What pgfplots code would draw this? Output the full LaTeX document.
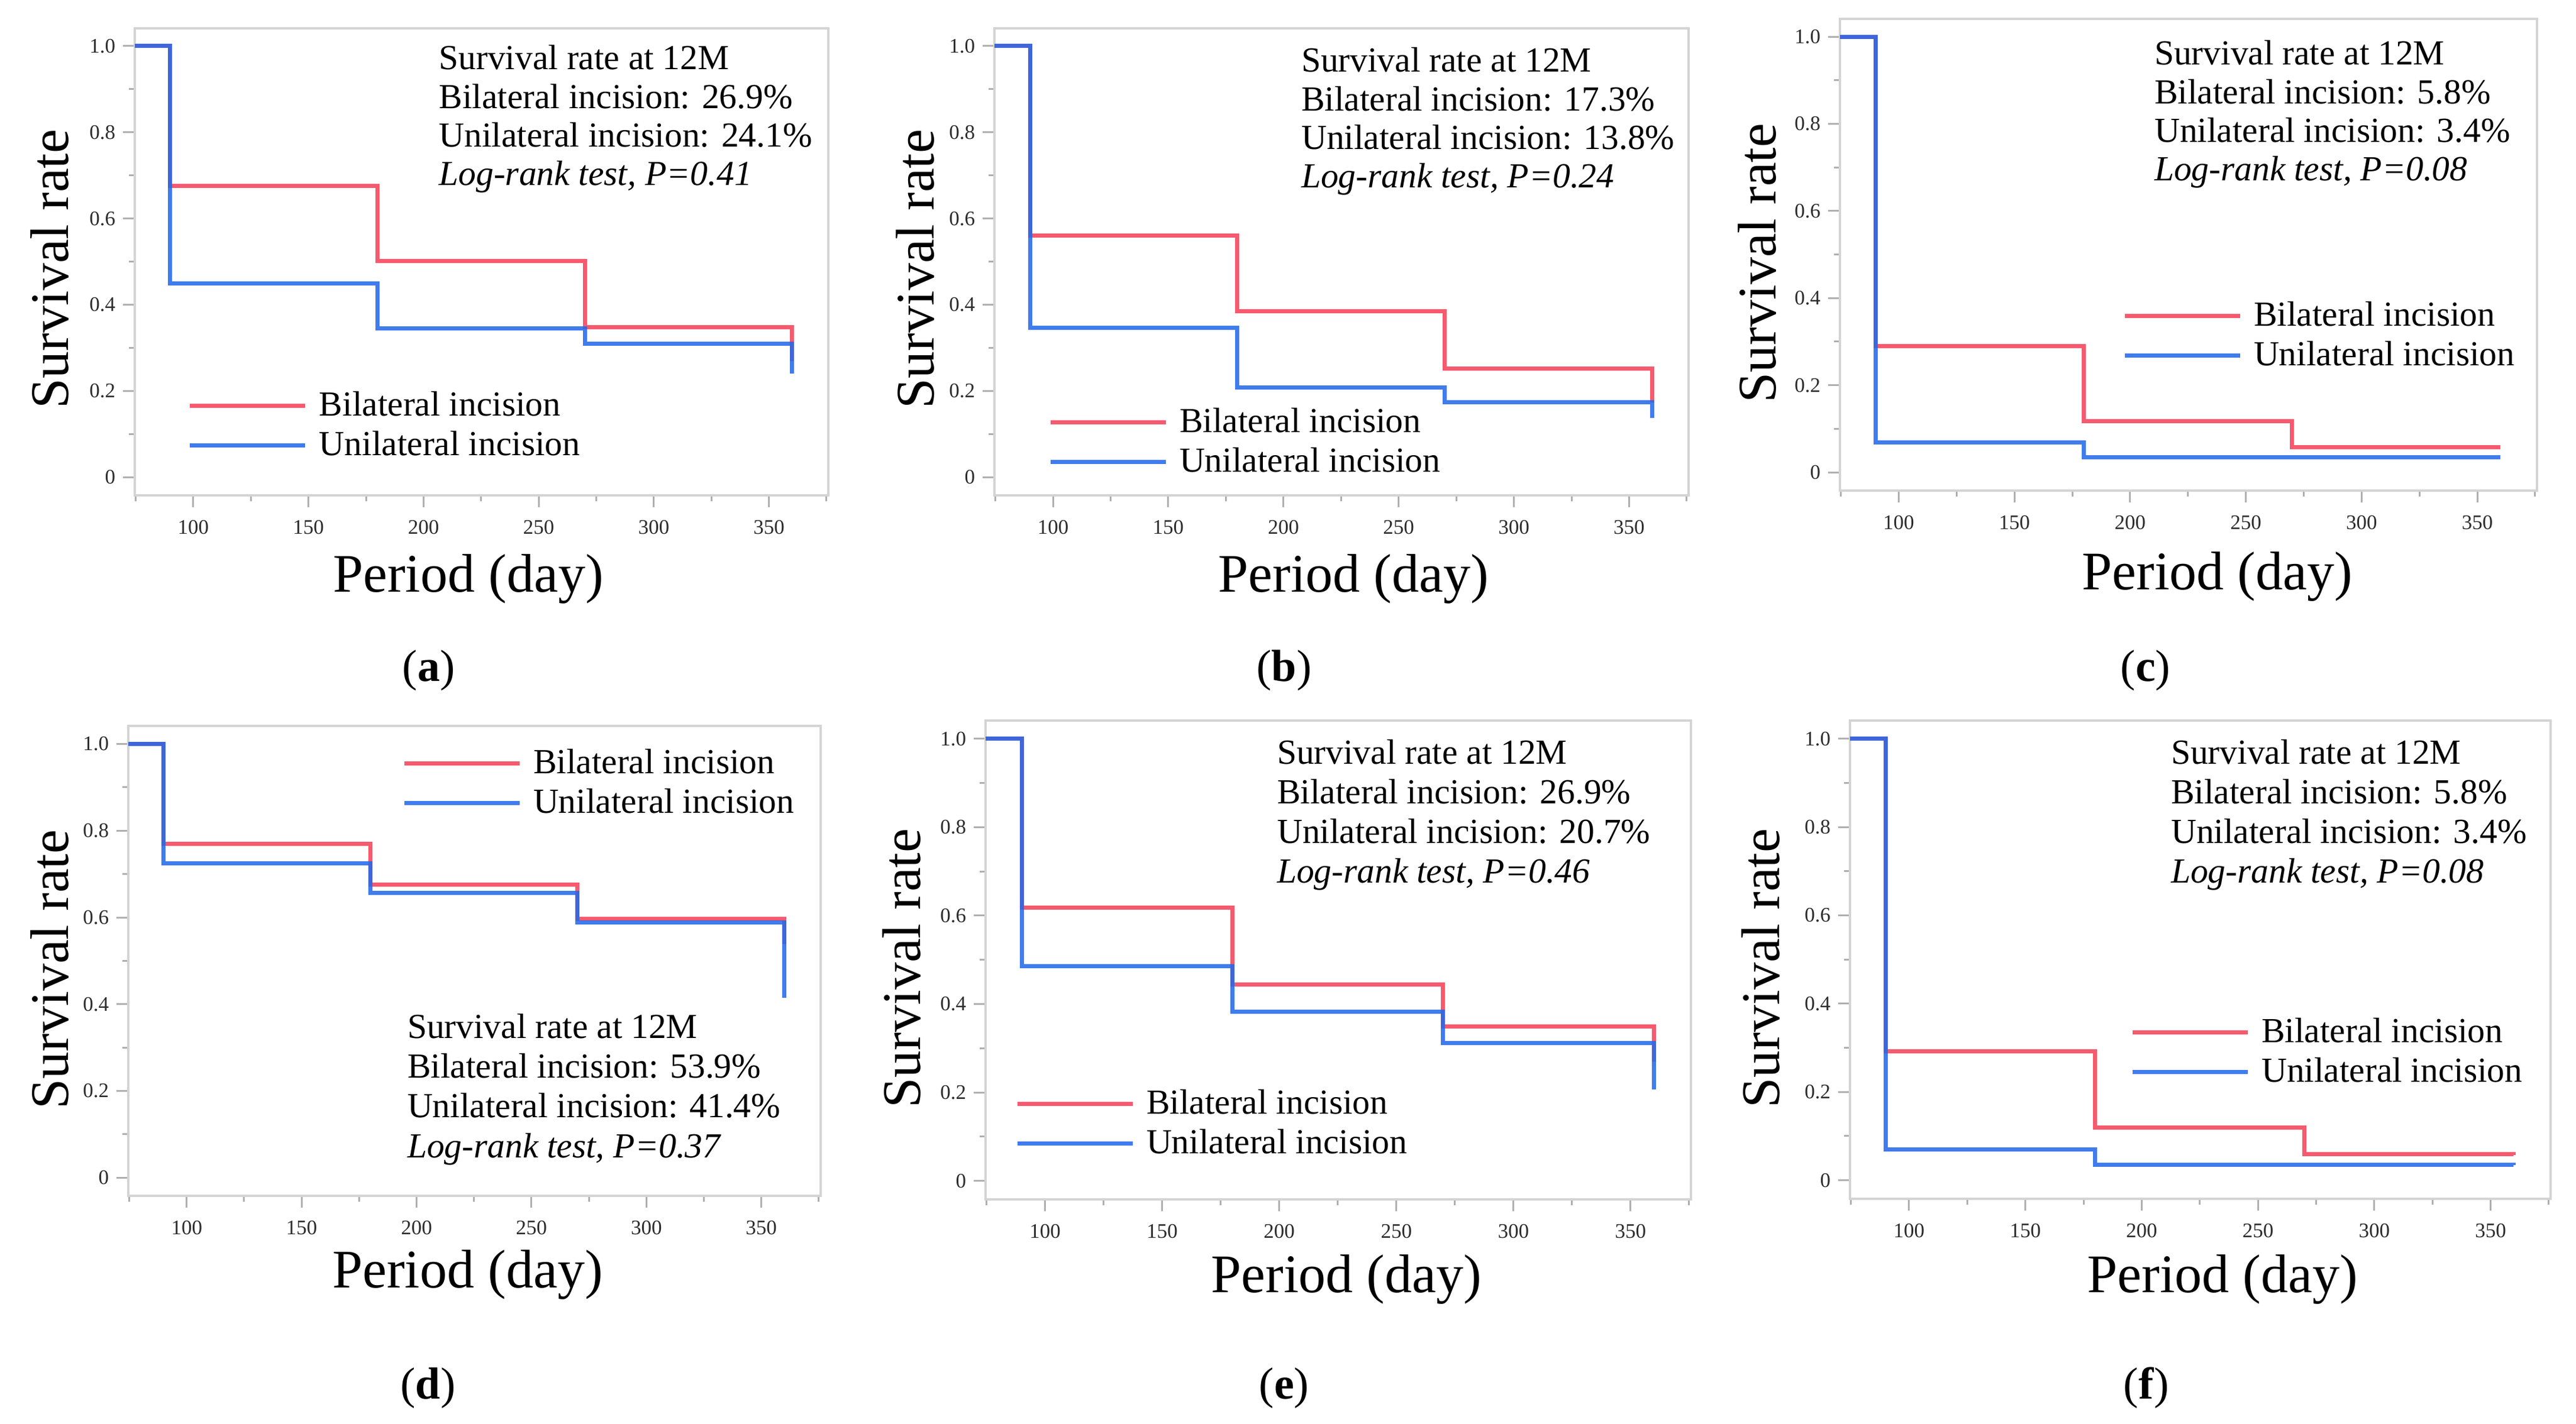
\documentclass[border=0pt]{standalone}
\usepackage{fontspec}
\setmainfont{Liberation Serif}
\usepackage{pgfplots}
\pgfplotsset{compat=1.18}
\definecolor{kmred}{RGB}{246,90,110}
\definecolor{kmblue}{RGB}{36,104,233}
\definecolor{framegray}{RGB}{212,212,212}
\definecolor{tickgray}{RGB}{175,175,175}
\definecolor{ticktext}{RGB}{45,45,45}
\newcommand{\leg}{\fontsize{5.95pt}{6.6pt}\selectfont}
\newcommand{\ticks}{\fontsize{3.5pt}{4.2pt}\selectfont}
\newcommand{\lab}{\fontsize{9.2pt}{11pt}\selectfont}
\newcommand{\capf}{\fontsize{7.6pt}{9pt}\selectfont}
\pgfplotsset{
  km/.style={
    scale only axis, anchor=south west,
    xmin=74.6, xmax=375.8, ymin=-0.042, ymax=1.041,
    xtick={100,150,200,250,300,350},
    minor xtick={75,125,175,225,275,325,375},
    ytick={0,0.2,0.4,0.6,0.8,1}, yticklabels={0,0.2,0.4,0.6,0.8,1.0},
    minor ytick={0.1,0.3,0.5,0.7,0.9},
    tick align=outside, xtick pos=left, ytick pos=left,
    major tick length=2pt, minor tick length=1pt,
    tick style={draw=tickgray, line width=0.3pt},
    minor tick style={draw=tickgray, line width=0.3pt},
    axis line style={draw=framegray, line width=0.4pt},
    tick label style={font=\ticks, text=ticktext},
    /pgf/number format/assume math mode=true,
    xticklabel style={inner sep=0pt, yshift=-2pt},
    yticklabel style={inner sep=0pt, xshift=-1.1pt},
    legend style={draw=none, fill=none, inner sep=0pt, outer sep=0pt,
      font=\leg, row sep=0pt, column sep=2pt,
      nodes={inner sep=0pt, text height=4.3pt, text depth=2.4pt, anchor=base west},
      cells={anchor=base west}, anchor=north west},
    legend image code/.code={\draw[##1, line width=0.7pt] (0pt,1.7pt) -- (19.5pt,1.7pt);},
  },
  redl/.style={draw=kmred, line width=0.7pt, const plot, mark=none},
  bluel/.style={draw=kmblue, draw opacity=0.87, line width=0.7pt, const plot, mark=none},
}
\newcommand{\ann}[7]{%
  \node[anchor=base west, inner sep=0pt, font=\leg] at (#1,#2) {Survival rate at 12M};
  \node[anchor=base west, inner sep=0pt, font=\leg, yshift=-#3] at (#1,#2) {Bilateral incision: #4\%};
  \node[anchor=base west, inner sep=0pt, font=\leg, yshift=-2*#3] at (#1,#2) {Unilateral incision: #5\%};
  \node[anchor=base west, inner sep=0pt, font=\leg, yshift=-3*#3] at (#1,#2) {\textit{Log-rank test, P=#6}};
}
\newcommand{\ylab}[2]{\node[rotate=90, anchor=base, inner sep=0pt, font=\lab] at (#1,#2) {Survival rate};}
\newcommand{\xlab}[2]{\node[anchor=base, inner sep=0pt, font=\lab] at (#1,#2) {Period (day)};}
\newcommand{\capt}[3]{\node[anchor=base, inner sep=0pt, font=\capf] at (#1,#2) {(\textbf{#3})};}
\begin{document}
\begin{tikzpicture}
\useasboundingbox (0,0) rectangle (435.7pt,240.8pt);
% (a)
\begin{axis}[km, at={(22.8pt,157.0pt)}, width=117.3pt, height=79.0pt,
  legend style={at={(0.0767,0.2241)}}]
\addplot[redl] coordinates {(74.6,1) (90,0.676) (180,0.502) (270,0.348) (360,0.269)};
\addplot[bluel] coordinates {(74.6,1) (90,0.449) (180,0.345) (270,0.310) (360,0.241)};
\legend{Bilateral incision,Unilateral incision}
\end{axis}
% (b)
\begin{axis}[km, at={(168.2pt,157.0pt)}, width=117.4pt, height=79.0pt,
  legend style={at={(0.0775,0.1886)}}]
\addplot[redl] coordinates {(74.6,1) (90,0.560) (180,0.385) (270,0.252) (360,0.173)};
\addplot[bluel] coordinates {(74.6,1) (90,0.347) (180,0.208) (270,0.174) (360,0.138)};
\legend{Bilateral incision,Unilateral incision}
\end{axis}
% (c)
\begin{axis}[km, at={(311.2pt,157.8pt)}, width=117.9pt, height=79.8pt,
  legend style={at={(0.4054,0.4023)}}]
\addplot[redl] coordinates {(74.6,1) (90,0.290) (180,0.117) (270,0.058) (360,0.058)};
\addplot[bluel] coordinates {(74.6,1) (90,0.069) (180,0.035) (270,0.034) (360,0.034)};
\legend{Bilateral incision,Unilateral incision}
\end{axis}
% (d)
\begin{axis}[km, at={(21.7pt,38.5pt)}, width=117.1pt, height=79.45pt,
  legend style={at={(0.3954,0.9540)}}]
\addplot[redl] coordinates {(74.6,1) (90,0.770) (180,0.675) (270,0.597) (360,0.539)};
\addplot[bluel] coordinates {(74.6,1) (90,0.725) (180,0.657) (270,0.588) (360,0.414)};
\legend{Bilateral incision,Unilateral incision}
\end{axis}
% (e)
\begin{axis}[km, at={(166.7pt,37.9pt)}, width=119.3pt, height=81.0pt,
  legend style={at={(0.0419,0.2309)}}]
\addplot[redl] coordinates {(74.6,1) (90,0.618) (180,0.444) (270,0.349) (360,0.269)};
\addplot[bluel] coordinates {(74.6,1) (90,0.486) (180,0.382) (270,0.311) (360,0.207)};
\legend{Bilateral incision,Unilateral incision}
\end{axis}
% (f)
\begin{axis}[km, at={(312.9pt,38.0pt)}, width=118.5pt, height=80.9pt,
  legend style={at={(0.4,0.3807)}}]
\addplot[redl] coordinates {(74.6,1) (90,0.292) (180,0.119) (270,0.059) (360,0.058)};
\addplot[bluel] coordinates {(74.6,1) (90,0.070) (180,0.035) (270,0.035) (360,0.034)};
\legend{Bilateral incision,Unilateral incision}
\end{axis}
% annotations
\ann{74.05pt}{229.0pt}{6.52pt}{26.9}{24.1}{0.41}{}
\ann{219.9pt}{228.6pt}{6.52pt}{17.3}{13.8}{0.24}{}
\ann{364.2pt}{229.8pt}{6.52pt}{5.8}{3.4}{0.08}{}
\ann{68.7pt}{65.1pt}{6.7pt}{53.9}{41.4}{0.37}{}
\ann{215.8pt}{111.5pt}{6.7pt}{26.9}{20.7}{0.46}{}
\ann{367.0pt}{111.5pt}{6.7pt}{5.8}{3.4}{0.08}{}
% axis labels
\ylab{11.5pt}{195.3pt}
\ylab{157.9pt}{195.3pt}
\ylab{300.3pt}{196.3pt}
\ylab{11.5pt}{76.8pt}
\ylab{155.6pt}{77.0pt}
\ylab{300.9pt}{77.0pt}
\xlab{79.2pt}{140.6pt}
\xlab{228.9pt}{140.6pt}
\xlab{375.0pt}{141.0pt}
\xlab{79.1pt}{23.0pt}
\xlab{227.7pt}{22.2pt}
\xlab{375.9pt}{22.2pt}
% captions
\capt{72.5pt}{125.5pt}{a}
\capt{217.2pt}{125.5pt}{b}
\capt{362.9pt}{125.5pt}{c}
\capt{72.4pt}{4.2pt}{d}
\capt{217.2pt}{4.2pt}{e}
\capt{363.0pt}{4.2pt}{f}
\end{tikzpicture}
\end{document}
